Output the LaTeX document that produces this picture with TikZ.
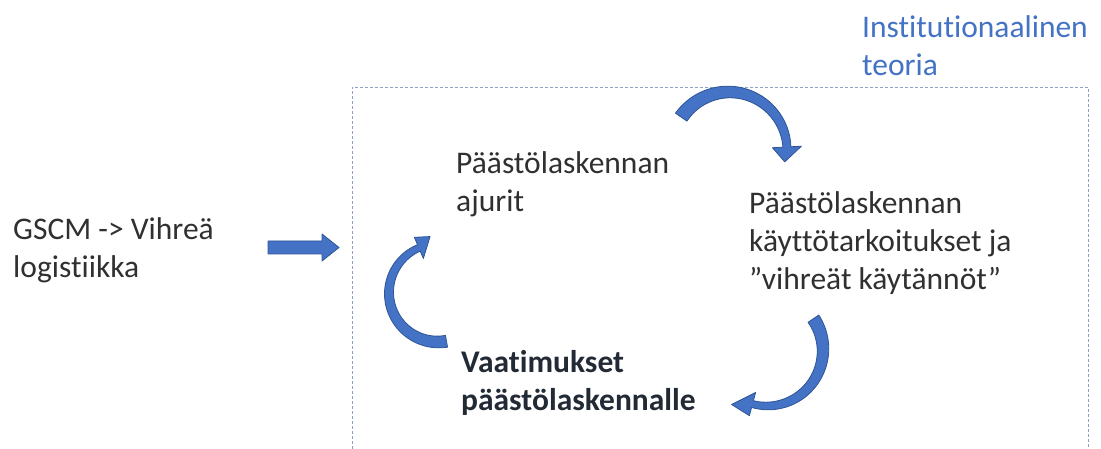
\documentclass[tikz,border=0pt]{standalone}
\usepackage{fontspec}
\setmainfont{Carlito}[Ligatures={NoCommon}]
\usepackage{tikz}

\definecolor{arrblue}{HTML}{4472C4}
\definecolor{arredge}{HTML}{2F5597}
\definecolor{txtgray}{HTML}{303030}
\definecolor{boldnavy}{HTML}{222A35}
\definecolor{teorblue}{HTML}{4472C4}
\definecolor{boxgray}{HTML}{8FA2C4}

% curved block arrow: cx, cy, r, tail angle, neck angle, tip (angle:radius), tail width, neck width, head width
\newcommand{\cyclearrow}[9]{%
  \begin{scope}[shift={(#1,#2)}]
    \filldraw[blockarrow] plot[domain=#4:#5,samples=40] (\x:{#3+0.5*(#7+(#8-#7)*(\x-(#4))/((#5)-(#4)))})
      -- (#5:{#3+0.5*#9}) -- (#6) -- (#5:{#3-0.5*#9})
      -- plot[domain=#5:#4,samples=40] (\x:{#3-0.5*(#7+(#8-#7)*(\x-(#4))/((#5)-(#4)))}) -- cycle;
  \end{scope}}

\begin{document}
\begin{tikzpicture}[x=1pt,y=-1pt,
  txt/.style={anchor=base west,align=left,inner sep=0pt,text=txtgray,font=\fontsize{31.5}{38}\selectfont},
  blockarrow/.style={fill=arrblue,draw=arredge,line width=0.8pt,line join=round},
  frame/.style={draw=boxgray,dash pattern=on 3pt off 2pt,line width=0.8pt}]

  \useasboundingbox (0,0) rectangle (1101,449);

  % base of each text = its last line
  \node[txt] (gscm) at (13,277) {GSCM -> Vihreä\\logistiikka};
  \node[txt] (ajurit) at (456,212) {Päästölaskennan\\ajurit};
  \node[txt] (kaytto) at (749,290) {Päästölaskennan\\käyttötarkoitukset ja\\”vihreät käytännöt”};
  \node[txt,text=boldnavy,font=\bfseries\fontsize{31.5}{38}\selectfont] (vaatimukset) at (461,410) {Vaatimukset\\päästölaskennalle};
  \node[txt,text=teorblue] (teoria) at (862,76) {Institutionaalinen\\teoria};

  % theory frame, open at the bottom
  \draw[frame] (352,449) -- (352,87) -- (1088,87) -- (1088,449);

  % arrow into the frame
  \filldraw[blockarrow] (268,241) -- (322,241) -- (322,234) -- (339,247.5)
    -- (322,261) -- (322,254) -- (268,254) -- cycle;

  % cycle arrows
  \cyclearrow{729}{150}{58}{-145.5}{-3}{12:57}{14}{8}{29}
  \cyclearrow{767}{350}{56}{-34}{105}{123:65}{13}{7}{24}
  \cyclearrow{438}{293}{49}{80}{247}{262:57}{12}{7}{23}

\end{tikzpicture}
\end{document}
